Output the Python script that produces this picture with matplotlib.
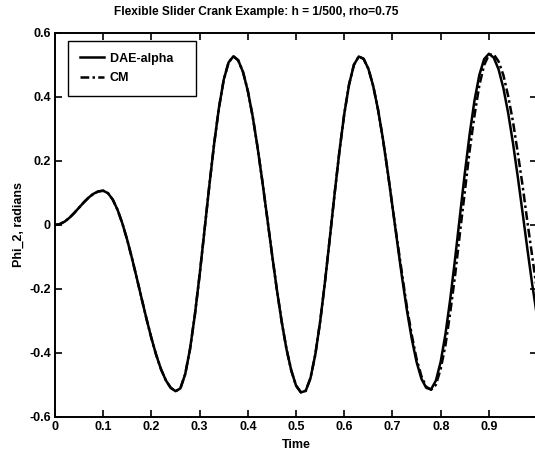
import numpy as np
import matplotlib
matplotlib.use('Agg')
import matplotlib.pyplot as plt

plt.rcParams['font.family'] = ['Liberation Sans', 'DejaVu Sans']
plt.rcParams['font.weight'] = 'bold'

# time samples (s)
time = [i / 100 for i in range(101)]

# DAE-alpha solution
dae_alpha = [
    0.0, 0.0027, 0.0104, 0.0225, 0.0376, 0.0544, 0.0710, 0.0859, 0.0976, 0.1049,
    0.1070, 0.0992, 0.0787, 0.0464, 0.0035, -0.0478, -0.1061, -0.1682, -0.2320, -0.2948,
    -0.3538, -0.4067, -0.4513, -0.4856, -0.5088, -0.5194, -0.5108, -0.4664, -0.3883, -0.2821,
    -0.1556, -0.0176, 0.1219, 0.2529, 0.3658, 0.4540, 0.5078, 0.5270, 0.5145, 0.4777,
    0.4183, 0.3391, 0.2439, 0.1371, 0.0239, -0.0903, -0.2003, -0.3007, -0.3868, -0.4545,
    -0.5020, -0.5230, -0.5183, -0.4780, -0.4040, -0.3014, -0.1774, -0.0410, 0.0985, 0.2310,
    0.3473, 0.4394, 0.5005, 0.5263, 0.5192, 0.4879, 0.4341, 0.3602, 0.2699, 0.1670,
    0.0567, -0.0560, -0.1657, -0.2673, -0.3562, -0.4285, -0.4806, -0.5090, -0.5135, -0.4863,
    -0.4270, -0.3393, -0.2288, -0.1030, 0.0301, 0.1619, 0.2839, 0.3883, 0.4680, 0.5180,
    0.5350, 0.5227, 0.4863, 0.4274, 0.3490, 0.2546, 0.1486, 0.0360, -0.0778, -0.1878,
    -0.2885,
]

# CM solution: same as DAE-alpha early on, lags a little towards the end
cm = dae_alpha[:71] + [
    -0.0504, -0.1550, -0.2577, -0.3440, -0.4192, -0.4725, -0.5056, -0.5149, -0.4994,
    -0.4493, -0.3743, -0.2706, -0.1554, -0.0235, 0.1041, 0.2324, 0.3418, 0.4352, 0.4993,
    0.5320, 0.5330, 0.5109, 0.4681, 0.4020, 0.3219, 0.2240, 0.1209, 0.0074, -0.1003,
    -0.2089,
]

xticks = [0, 0.1, 0.2, 0.3, 0.4, 0.5, 0.6, 0.7, 0.8, 0.9]
xtick_labels = ['0', '0.1', '0.2', '0.3', '0.4', '0.5', '0.6', '0.7', '0.8', '0.9']
yticks = [-0.6, -0.4, -0.2, 0, 0.2, 0.4, 0.6]
ytick_labels = ['-0.6', '-0.4', '-0.2', '0', '0.2', '0.4', '0.6']

fig = plt.figure(figsize=(5.35, 4.51), dpi=100)
ax = fig.add_axes([0.1028, 0.0754, 0.9012, 0.8516])

ax.plot(time, dae_alpha, color='black', lw=1.8, label='DAE-alpha   ')
ax.plot(time, cm, color='black', lw=1.8, linestyle=(0, (3.5, 1.3, 1, 1.3)), label='CM')

ax.set_xlim(0, 1.0)
ax.set_ylim(-0.6, 0.6)
ax.set_xticks(xticks)
ax.set_xticklabels(xtick_labels)
ax.set_yticks(yticks)
ax.set_yticklabels(ytick_labels)
ax.tick_params(direction='in', top=True, right=True, length=5, width=1.2,
               labelsize=9, pad=3)
for s in ax.spines.values():
    s.set_linewidth(1.4)

# title sits a bit left of the axes centre in the original
fig.text(0.478, 1 - 12 / 451, 'Flexible Slider Crank Example: h = 1/500, rho=0.75',
         fontsize=8.6, fontweight='bold', ha='center', va='center')
ax.set_xlabel('Time', fontsize=9, fontweight='bold', labelpad=4)
ax.set_ylabel('Phi_2, radians', fontsize=9, fontweight='bold', labelpad=3)

leg = ax.legend(loc='upper left', bbox_to_anchor=(0.027, 0.979), borderaxespad=0,
                fancybox=False, edgecolor='black', framealpha=1, fontsize=9,
                handlelength=1.9, handletextpad=0.5, borderpad=0.95, labelspacing=0.6)
leg.get_frame().set_linewidth(1.0)

fig.savefig('out.png', dpi=100)
